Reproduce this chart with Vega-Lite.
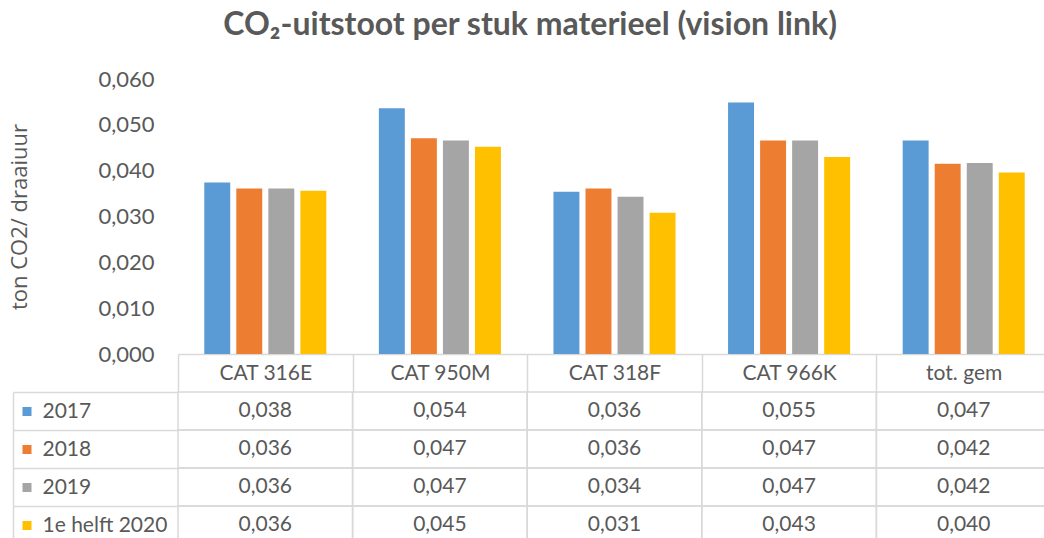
{
  "$schema": "https://vega.github.io/schema/vega-lite/v6.json",
  "padding": {"left": 8, "top": 9, "right": 0, "bottom": 0},
  "bounds": "flush",
  "spacing": 38,
  "title": {
    "text": "CO₂-uitstoot per stuk materieel (vision link)",
    "fontSize": 32,
    "fontWeight": "bold",
    "color": "#595959",
    "anchor": "middle",
    "offset": 26
  },
  "data": {
    "values": [
      {"cat": "CAT 316E", "series": "2017", "value": 0.0374, "tabel": 0.038},
      {"cat": "CAT 316E", "series": "2018", "value": 0.0361, "tabel": 0.036},
      {"cat": "CAT 316E", "series": "2019", "value": 0.0361, "tabel": 0.036},
      {"cat": "CAT 316E", "series": "1e helft 2020", "value": 0.0356, "tabel": 0.036},
      {"cat": "CAT 950M", "series": "2017", "value": 0.0536, "tabel": 0.054},
      {"cat": "CAT 950M", "series": "2018", "value": 0.0471, "tabel": 0.047},
      {"cat": "CAT 950M", "series": "2019", "value": 0.0466, "tabel": 0.047},
      {"cat": "CAT 950M", "series": "1e helft 2020", "value": 0.0452, "tabel": 0.045},
      {"cat": "CAT 318F", "series": "2017", "value": 0.0354, "tabel": 0.036},
      {"cat": "CAT 318F", "series": "2018", "value": 0.0361, "tabel": 0.036},
      {"cat": "CAT 318F", "series": "2019", "value": 0.0343, "tabel": 0.034},
      {"cat": "CAT 318F", "series": "1e helft 2020", "value": 0.0308, "tabel": 0.031},
      {"cat": "CAT 966K", "series": "2017", "value": 0.0549, "tabel": 0.055},
      {"cat": "CAT 966K", "series": "2018", "value": 0.0466, "tabel": 0.047},
      {"cat": "CAT 966K", "series": "2019", "value": 0.0466, "tabel": 0.047},
      {"cat": "CAT 966K", "series": "1e helft 2020", "value": 0.0430, "tabel": 0.043},
      {"cat": "tot. gem", "series": "2017", "value": 0.0466, "tabel": 0.047},
      {"cat": "tot. gem", "series": "2018", "value": 0.0415, "tabel": 0.042},
      {"cat": "tot. gem", "series": "2019", "value": 0.0417, "tabel": 0.042},
      {"cat": "tot. gem", "series": "1e helft 2020", "value": 0.0396, "tabel": 0.040}
    ]
  },
  "vconcat": [
    {
      "width": 873,
      "height": 275,
      "mark": {"type": "bar"},
      "encoding": {
        "x": {
          "field": "cat",
          "type": "nominal",
          "sort": ["CAT 316E", "CAT 950M", "CAT 318F", "CAT 966K", "tot. gem"],
          "scale": {"paddingInner": 0, "paddingOuter": 0},
          "axis": {"labels": false, "ticks": false, "domain": true, "domainColor": "#D9D9D9", "domainWidth": 1.5, "title": null, "grid": false}
        },
        "xOffset": {
          "field": "series",
          "type": "nominal",
          "sort": ["2017", "2018", "2019", "1e helft 2020"],
          "scale": {"paddingInner": 0.19, "paddingOuter": 0.82}
        },
        "y": {
          "field": "value",
          "type": "quantitative",
          "scale": {"domain": [0, 0.06], "nice": false},
          "axis": {
            "values": [0, 0.01, 0.02, 0.03, 0.04, 0.05, 0.06],
            "format": ".3f",
            "grid": false,
            "domain": false,
            "ticks": false,
            "labelPadding": 24,
            "labelFontSize": 22,
            "labelColor": "#595959",
            "title": "ton CO2/ draaiuur",
            "titleFont": "Open Sans",
            "titleFontSize": 22,
            "titleFontWeight": "normal",
            "titleColor": "#595959",
            "titlePadding": 66
          }
        },
        "color": {
          "field": "series",
          "type": "nominal",
          "sort": ["2017", "2018", "2019", "1e helft 2020"],
          "scale": {"domain": ["2017", "2018", "2019", "1e helft 2020"], "range": ["#5B9BD5", "#ED7D31", "#A5A5A5", "#FFC000"]},
          "legend": null
        }
      }
    },
    {
      "width": 873,
      "height": 152,
      "encoding": {
        "x": {
          "field": "cat",
          "type": "nominal",
          "sort": ["CAT 316E", "CAT 950M", "CAT 318F", "CAT 966K", "tot. gem"],
          "scale": {"paddingInner": 0, "paddingOuter": 0},
          "axis": {
            "orient": "top",
            "tickBand": "extent",
            "tickSize": 38,
            "tickColor": "#D9D9D9",
            "tickWidth": 1.5,
            "domain": false,
            "grid": false,
            "labelPadding": -19,
            "labelBaseline": "middle",
            "labelAngle": 0,
            "labelFontSize": 21,
            "labelColor": "#595959",
            "title": null
          }
        }
      },
      "layer": [
        {
          "mark": {"type": "rect", "filled": false, "stroke": "#D9D9D9", "strokeWidth": 1.5},
          "encoding": {
            "y": {
              "field": "series",
              "type": "nominal",
              "sort": ["2017", "2018", "2019", "1e helft 2020"],
              "scale": {"paddingInner": 0, "paddingOuter": 0},
              "axis": {
                "orient": "left",
                "offset": 165,
                "domain": true,
                "domainColor": "#D9D9D9",
                "domainWidth": 1.5,
                "labels": false,
                "ticks": true,
                "tickBand": "center",
                "tickSize": -18,
                "tickWidth": 9,
                "tickDash": [0, 9, 9, 0],
                "tickColor": {
                  "condition": [
                    {"test": "datum.value === '2017'", "value": "#5B9BD5"},
                    {"test": "datum.value === '2018'", "value": "#ED7D31"},
                    {"test": "datum.value === '2019'", "value": "#A5A5A5"}
                  ],
                  "value": "#FFC000"
                },
                "grid": false,
                "title": null
              }
            }
          }
        },
        {
          "mark": {"type": "text", "fontSize": 21, "color": "#595959"},
          "encoding": {
            "y": {
              "field": "series",
              "type": "nominal",
              "sort": ["2017", "2018", "2019", "1e helft 2020"],
              "axis": {
                "orient": "left",
                "domain": false,
                "tickBand": "extent",
                "tickSize": 165,
                "tickColor": "#D9D9D9",
                "tickWidth": 1.5,
                "labelAlign": "left",
                "labelBaseline": "middle",
                "labelPadding": -29,
                "labelFontSize": 21,
                "labelColor": "#595959",
                "grid": false,
                "title": null
              }
            },
            "text": {"field": "tabel", "type": "quantitative", "format": ".3f"}
          }
        }
      ],
      "resolve": {"axis": {"y": "independent"}}
    }
  ],
  "config": {
    "font": "Lato",
    "view": {"stroke": null},
    "locale": {"number": {"decimal": ",", "thousands": ".", "grouping": [3], "currency": ["€", ""]}}
  }
}
